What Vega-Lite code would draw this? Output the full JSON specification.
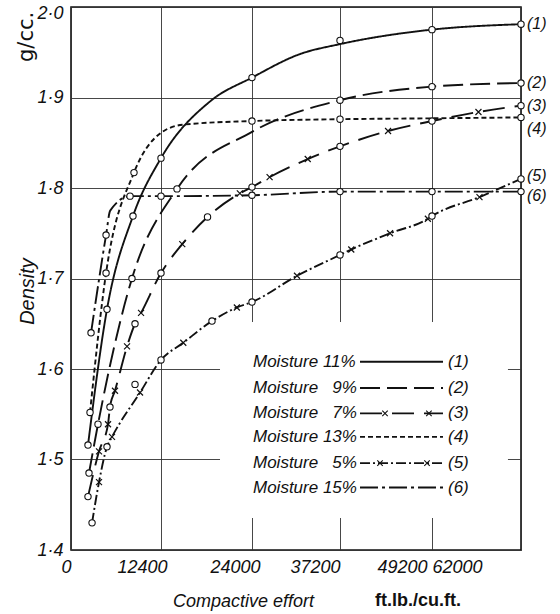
{
  "$schema": "https://vega.github.io/schema/vega-lite/v6.json",
  "width": 450,
  "height": 543,
  "autosize": "none",
  "padding": {"left": 71, "top": 7, "right": 39, "bottom": 64},
  "background": "white",
  "config": {
    "view": {"stroke": "#111", "strokeWidth": 1.6},
    "font": "Liberation Sans",
    "axis": {
      "domain": false, "ticks": false, "grid": true,
      "gridColor": "#333", "gridWidth": 0.9,
      "labelFont": "Liberation Sans", "labelFontStyle": "italic", "labelFontSize": 18, "labelColor": "#111",
      "titleFont": "Liberation Sans", "titleFontStyle": "italic", "titleFontWeight": "normal", "titleFontSize": 18, "titleColor": "#111"
    }
  },
  "datasets": {
    "series": [
      {"c":"(1)","x":2340,"y":1.516,"m":"o"},
      {"c":"(1)","x":4960,"y":1.666,"m":"o"},
      {"c":"(1)","x":8540,"y":1.769,"m":"o"},
      {"c":"(1)","x":12400,"y":1.833,"m":"o"},
      {"c":"(1)","x":18700,"y":1.896,"m":""},
      {"c":"(1)","x":24000,"y":1.922,"m":"o"},
      {"c":"(1)","x":31200,"y":1.948,"m":""},
      {"c":"(1)","x":37200,"y":1.959,"m":""},
      {"c":"(1)","x":37200,"y":1.963,"m":"p"},
      {"c":"(1)","x":49200,"y":1.975,"m":"o"},
      {"c":"(1)","x":62000,"y":1.981,"m":"o"},

      {"c":"(2)","x":2480,"y":1.485,"m":"o"},
      {"c":"(2)","x":3720,"y":1.539,"m":"o"},
      {"c":"(2)","x":8400,"y":1.700,"m":"o"},
      {"c":"(2)","x":14440,"y":1.799,"m":"o"},
      {"c":"(2)","x":24000,"y":1.862,"m":""},
      {"c":"(2)","x":37200,"y":1.897,"m":"o"},
      {"c":"(2)","x":49200,"y":1.912,"m":"o"},
      {"c":"(2)","x":62000,"y":1.916,"m":"o"},

      {"c":"(3)","x":2340,"y":1.459,"m":"o"},
      {"c":"(3)","x":3860,"y":1.509,"m":"x"},
      {"c":"(3)","x":5100,"y":1.539,"m":"x"},
      {"c":"(3)","x":5370,"y":1.558,"m":"o"},
      {"c":"(3)","x":6060,"y":1.576,"m":"x"},
      {"c":"(3)","x":7720,"y":1.625,"m":"x"},
      {"c":"(3)","x":8820,"y":1.650,"m":"o"},
      {"c":"(3)","x":9650,"y":1.662,"m":"x"},
      {"c":"(3)","x":12400,"y":1.706,"m":"o"},
      {"c":"(3)","x":15110,"y":1.738,"m":"x"},
      {"c":"(3)","x":18330,"y":1.768,"m":"o"},
      {"c":"(3)","x":22450,"y":1.794,"m":"x"},
      {"c":"(3)","x":24000,"y":1.801,"m":"o"},
      {"c":"(3)","x":26640,"y":1.812,"m":"x"},
      {"c":"(3)","x":32360,"y":1.832,"m":"x"},
      {"c":"(3)","x":37200,"y":1.846,"m":"o"},
      {"c":"(3)","x":43470,"y":1.863,"m":"x"},
      {"c":"(3)","x":49200,"y":1.874,"m":"o"},
      {"c":"(3)","x":55880,"y":1.884,"m":"x"},
      {"c":"(3)","x":62000,"y":1.891,"m":"o"},

      {"c":"(4)","x":2620,"y":1.552,"m":"o"},
      {"c":"(4)","x":4830,"y":1.706,"m":"o"},
      {"c":"(4)","x":8680,"y":1.817,"m":"o"},
      {"c":"(4)","x":12400,"y":1.861,"m":""},
      {"c":"(4)","x":15240,"y":1.870,"m":""},
      {"c":"(4)","x":24000,"y":1.874,"m":"o"},
      {"c":"(4)","x":37200,"y":1.876,"m":"o"},
      {"c":"(4)","x":49200,"y":1.877,"m":""},
      {"c":"(4)","x":62000,"y":1.878,"m":"o"},

      {"c":"(5)","x":2900,"y":1.430,"m":"o"},
      {"c":"(5)","x":3860,"y":1.475,"m":"x"},
      {"c":"(5)","x":4960,"y":1.514,"m":"o"},
      {"c":"(5)","x":5650,"y":1.525,"m":"x"},
      {"c":"(5)","x":8820,"y":1.583,"m":"p"},
      {"c":"(5)","x":9510,"y":1.574,"m":"x"},
      {"c":"(5)","x":12400,"y":1.610,"m":"o"},
      {"c":"(5)","x":15240,"y":1.629,"m":"x"},
      {"c":"(5)","x":18900,"y":1.653,"m":"o"},
      {"c":"(5)","x":22070,"y":1.668,"m":"x"},
      {"c":"(5)","x":24000,"y":1.674,"m":"o"},
      {"c":"(5)","x":30750,"y":1.703,"m":"x"},
      {"c":"(5)","x":37200,"y":1.726,"m":"o"},
      {"c":"(5)","x":38670,"y":1.732,"m":"x"},
      {"c":"(5)","x":43730,"y":1.750,"m":"x"},
      {"c":"(5)","x":48660,"y":1.766,"m":"x"},
      {"c":"(5)","x":49200,"y":1.769,"m":"o"},
      {"c":"(5)","x":56030,"y":1.790,"m":"x"},
      {"c":"(5)","x":62000,"y":1.810,"m":"o"},

      {"c":"(6)","x":2760,"y":1.640,"m":"o"},
      {"c":"(6)","x":4830,"y":1.748,"m":"o"},
      {"c":"(6)","x":5400,"y":1.775,"m":""},
      {"c":"(6)","x":8130,"y":1.791,"m":"o"},
      {"c":"(6)","x":12400,"y":1.791,"m":"o"},
      {"c":"(6)","x":24000,"y":1.792,"m":"o"},
      {"c":"(6)","x":37200,"y":1.796,"m":"o"},
      {"c":"(6)","x":49200,"y":1.796,"m":"o"},
      {"c":"(6)","x":62000,"y":1.796,"m":"o"}
    ],
    "legend": [
      {"c":"(1)","t":"Moisture 11%","y":1.608,"tx":24150,"rx":39810,"rx2":50780,"gx":51500},
      {"c":"(2)","t":"Moisture \u20079%","y":1.579,"tx":24150,"rx":39810,"rx2":50780,"gx":51500},
      {"c":"(3)","t":"Moisture \u20077%","y":1.551,"tx":24150,"rx":39810,"rx2":50780,"gx":51500},
      {"c":"(4)","t":"Moisture 13%","y":1.525,"tx":24150,"rx":39810,"rx2":50780,"gx":51500},
      {"c":"(5)","t":"Moisture \u20075%","y":1.496,"tx":24150,"rx":39810,"rx2":50780,"gx":51500},
      {"c":"(6)","t":"Moisture 15%","y":1.469,"tx":24150,"rx":39810,"rx2":50780,"gx":51500}
    ],
    "lmarks": [
      {"c":"(3)","x":43070,"y":1.551},
      {"c":"(3)","x":48800,"y":1.551},
      {"c":"(5)","x":42420,"y":1.496},
      {"c":"(5)","x":48550,"y":1.496}
    ],
    "notes": [
      {"t":"ft.lb./cu.ft.","x":41760,"y":1.4},
      {"t":"g/cc.","x":0,"y":1.967}
    ]
  },
  "data": {"name": "series"},
  "encoding": {
    "x": {
      "field": "x", "type": "quantitative", "title": "Compactive effort",
      "scale": {"domain": [0, 12400, 24000, 37200, 49200, 62000], "range": [0, 90, 181, 269, 361, 450]},
      "axis": {
        "values": [0, 12400, 24000, 37200, 49200, 62000],
        "labelFlush": false, "labelAlign": "right", "labelBaseline": "top", "labelPadding": 8,
        "format": "d",
        "labelOffset": {"condition": [
          {"test": "datum.value == 62000", "value": -39},
          {"test": "datum.value == 24000", "value": 8},
          {"test": "datum.value == 12400", "value": 6},
          {"test": "datum.value == 49200", "value": -5}
        ], "value": 0},
        "titleX": 172, "titleY": 56, "titleAlign": "center", "titleBaseline": "alphabetic", "titleAnchor": null
      }
    },
    "y": {
      "field": "y", "type": "quantitative", "title": "Density",
      "scale": {"domain": [1.4, 2.0], "zero": false, "nice": false},
      "axis": {
        "values": [1.4, 1.5, 1.6, 1.7, 1.8, 1.9, 2.0],
        "labelExpr": "replace(format(datum.value, '.1f'), '.', '·')",
        "labelPadding": 8, "labelFlush": false,
        "labelOffset": {"condition": {"test": "datum.value == 2", "value": 6}, "value": 0},
        "titleX": -44, "titleY": 284, "titleBaseline": "middle", "titleAlign": "center", "titleAngle": 270, "titleFontSize": 20, "titleAnchor": null
      }
    }
  },
  "layer": [
    {
      "mark": {"type": "rect", "fill": "white", "stroke": null},
      "encoding": {
        "x": {"datum": 20000}, "x2": {"datum": 60000},
        "y": {"datum": 1.436}, "y2": {"datum": 1.651}
      }
    },
    {
      "transform": [{"filter": "datum.m != 'p'"}],
      "mark": {"type": "line", "interpolate": "monotone", "color": "#111", "strokeWidth": 1.9},
      "encoding": {
        "detail": {"field": "c"},
        "strokeDash": {
          "field": "c", "type": "nominal", "legend": null,
          "scale": {"domain": ["(1)","(2)","(3)","(4)","(5)","(6)"], "range": [[1,0],[20,7],[22,10],[5,3],[10,3,2,3],[18,4,3,4]]}
        }
      }
    },
    {
      "transform": [{"filter": "datum.m == 'x'"}],
      "mark": {"type": "point", "shape": "M-1,-1L1,1M-1,1L1,-1", "size": 36, "filled": false, "stroke": "#111", "strokeWidth": 1.2, "opacity": 1}
    },
    {
      "transform": [{"filter": "datum.m == 'o' || datum.m == 'p'"}],
      "mark": {"type": "point", "shape": "circle", "size": 40, "filled": true, "fill": "white", "stroke": "#111", "strokeWidth": 1.1, "opacity": 1}
    },
    {
      "transform": [{"filter": "datum.x == 62000 && datum.m == 'o'"}],
      "mark": {"type": "text", "align": "left", "baseline": "middle", "dx": 6, "fontStyle": "italic", "fontSize": 16, "color": "#111",
               "dy": {"expr": "datum.c == '(4)' ? 12 : datum.c == '(6)' ? 4 : datum.c == '(5)' ? -3 : 0"}},
      "encoding": {"text": {"field": "c"}}
    },
    {
      "data": {"name": "legend"},
      "mark": {"type": "text", "align": "left", "baseline": "middle", "fontStyle": "italic", "fontSize": 17, "color": "#111"},
      "encoding": {"x": {"field": "tx", "type": "quantitative", "title": "Compactive effort"}, "text": {"field": "t"}}
    },
    {
      "data": {"name": "legend"},
      "mark": {"type": "rule", "color": "#111", "strokeWidth": 1.9},
      "encoding": {
        "x": {"field": "rx", "type": "quantitative", "title": "Compactive effort"}, "x2": {"field": "rx2"},
        "strokeDash": {
          "field": "c", "type": "nominal", "legend": null,
          "scale": {"domain": ["(1)","(2)","(3)","(4)","(5)","(6)"], "range": [[1,0],[20,7],[22,10],[5,3],[10,3,2,3],[18,4,3,4]]}
        }
      }
    },
    {
      "data": {"name": "lmarks"},
      "mark": {"type": "point", "shape": "M-1,-1L1,1M-1,1L1,-1", "size": 30, "filled": false, "stroke": "#111", "strokeWidth": 1.1, "opacity": 1}
    },
    {
      "data": {"name": "legend"},
      "mark": {"type": "text", "align": "left", "baseline": "middle", "fontStyle": "italic", "fontSize": 17, "color": "#111"},
      "encoding": {"x": {"field": "gx", "type": "quantitative", "title": "Compactive effort"}, "text": {"field": "c"}}
    },
    {
      "data": {"name": "notes"},
      "transform": [{"filter": "datum.t == 'ft.lb./cu.ft.'"}],
      "mark": {"type": "text", "align": "left", "baseline": "alphabetic", "dy": 56, "fontWeight": "bold", "fontSize": 18, "color": "#111"},
      "encoding": {"text": {"field": "t"}}
    },
    {
      "data": {"name": "notes"},
      "transform": [{"filter": "datum.t == 'g/cc.'"}],
      "mark": {"type": "text", "align": "center", "baseline": "middle", "angle": 270, "dy": -44, "font": "DejaVu Sans", "fontSize": 21, "color": "#111"},
      "encoding": {"text": {"field": "t"}}
    }
  ]
}
